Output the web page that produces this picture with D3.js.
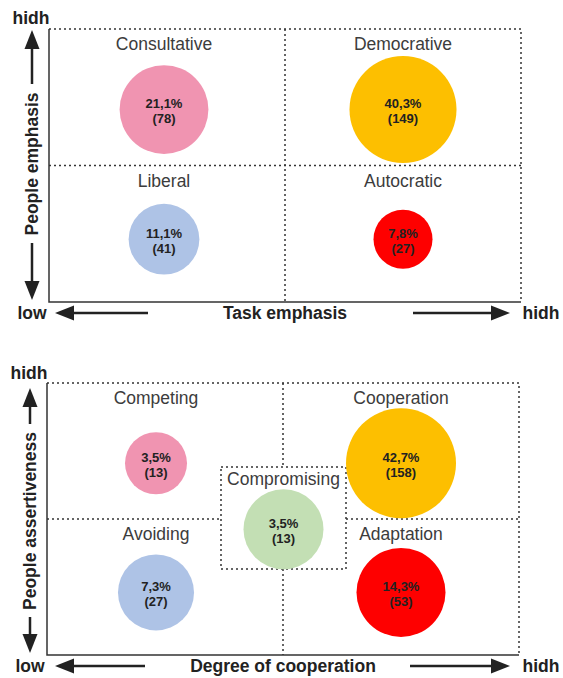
<!DOCTYPE html>
<html>
<head>
<meta charset="utf-8">
<script src="https://cdn.jsdelivr.net/npm/d3@7"></script>
<style>
  body { margin: 0; background: #fff; }
  svg { font-family: "Liberation Sans", Arial, sans-serif; }
</style>
</head>
<body>
<div id="wrapper"></div>
<script>
// leadership styles (top) and conflict styles (bottom)
const styleNames = ["Consultative", "Democrative", "Liberal", "Autocratic"]
const stylePct = [21.1, 40.3, 11.1, 7.8]
const styleCounts = [78, 149, 41, 27]

const conflictNames = ["Competing", "Cooperation", "Avoiding", "Adaptation"]
const conflictPct = [3.5, 42.7, 7.3, 14.3]
const conflictCounts = [13, 158, 27, 53]

const middleName = "Compromising"
const middlePct = 3.5
const middleCount = 13

const quadCols = [0, 1, 0, 1]
const quadRows = [0, 0, 1, 1]
const colors = ["#f094b1", "#fdbf00", "#aec3e6", "#fe0000"]
const middleColor = "#c3dfb4"

const axisText = {
  top: { x: "Task emphasis", y: "People emphasis", hi: "hidh", lo: "low" },
  bottom: { x: "Degree of cooperation", y: "People assertiveness", hi: "hidh", lo: "low" },
}

const locale = d3.formatLocale({ decimal: ",", thousands: ".", grouping: [3], currency: ["", ""] })
const fmtPct = d => locale.format(".1f")(d) + "%"

const width = 563
const height = 678

const svg = d3.select("#wrapper")
  .append("svg")
  .attr("width", width)
  .attr("height", height)

const ink = "#222"
const dotted = "2,3"

function arrowHead(g, x, y, dir) {
  // dir: "up" | "down" | "left" | "right"
  const L = 19, W = 7.5
  let pts
  if (dir === "up") pts = [[x, y], [x - W, y + L], [x + W, y + L]]
  if (dir === "down") pts = [[x, y], [x - W, y - L], [x + W, y - L]]
  if (dir === "left") pts = [[x, y], [x + L, y - W], [x + L, y + W]]
  if (dir === "right") pts = [[x, y], [x - L, y - W], [x - L, y + W]]
  g.append("path").attr("d", d3.line()(pts) + "Z").attr("fill", ink)
}

function drawPanel(opts) {
  const { box, names, pct, counts, rScale, txt, arrows, middle } = opts
  const g = svg.append("g")

  const x = d3.scaleLinear().domain([0, 2]).range([box.left, box.right])
  const y = d3.scaleLinear().domain([0, 2]).range([box.top, box.bottom])
  const cellH = y(1) - y(0)

  // dotted frame (top, right) + dividers
  g.append("path")
    .attr("d", `M${x(0)},${y(0)}H${x(2)}V${y(2)}`)
    .attr("fill", "none").attr("stroke", "#333").attr("stroke-width", 1.5)
    .attr("stroke-dasharray", dotted)

  if (middle) {
    const mb = middle.box
    g.append("path")
      .attr("d", `M${x(1)},${y(0)}V${mb.top}M${x(1)},${mb.bottom}V${y(2)}` +
        `M${x(0)},${y(1)}H${mb.left}M${mb.right},${y(1)}H${x(2)}`)
      .attr("fill", "none").attr("stroke", "#333").attr("stroke-width", 1.5)
      .attr("stroke-dasharray", dotted)
  } else {
    g.append("path")
      .attr("d", `M${x(1)},${y(0)}V${y(2)}M${x(0)},${y(1)}H${x(2)}`)
      .attr("fill", "none").attr("stroke", "#333").attr("stroke-width", 1.5)
      .attr("stroke-dasharray", dotted)
  }

  // solid axes
  g.append("path")
    .attr("d", `M${x(0)},${y(0)}V${y(2)}H${x(2)}`)
    .attr("fill", "none").attr("stroke", "#333").attr("stroke-width", 1.5)

  const rowFrac = [0.59, 0.54]
  const data = names.map((n, i) => ({
    name: n, pct: pct[i], count: counts[i],
    cx: x(quadCols[i] + 0.5) + (quadCols[i] === 0 ? box.leftShift : 0),
    cy: y(quadRows[i]) + rowFrac[quadRows[i]] * cellH,
    ly: y(quadRows[i]) + 15,
    r: rScale(counts[i]),
    color: colors[i],
  }))

  if (middle) {
    const mb = middle.box
    g.append("rect")
      .attr("x", mb.left).attr("y", mb.top)
      .attr("width", mb.right - mb.left).attr("height", mb.bottom - mb.top)
      .attr("fill", "#fff").attr("stroke", "#333").attr("stroke-width", 1.5)
      .attr("stroke-dasharray", dotted)
    data.push({
      name: middle.name, pct: middle.pct, count: middle.count,
      cx: (mb.left + mb.right) / 2,
      cy: mb.top + 0.61 * (mb.bottom - mb.top),
      ly: mb.top + 12,
      r: rScale(middle.count) * 1.29,
      color: middleColor,
    })
  }

  const q = g.selectAll(".quad").data(data).join("g").attr("class", "quad")

  q.append("circle")
    .attr("cx", d => d.cx).attr("cy", d => d.cy).attr("r", d => d.r)
    .attr("fill", d => d.color)

  q.append("text")
    .attr("x", d => d.cx).attr("y", d => d.ly)
    .attr("dy", "0.35em")
    .attr("text-anchor", "middle")
    .attr("font-size", 17.5)
    .attr("fill", "#3c3c3c")
    .text(d => d.name)

  q.append("text")
    .attr("x", d => d.cx).attr("y", d => d.cy - 6)
    .attr("dy", "0.35em")
    .attr("text-anchor", "middle")
    .attr("font-size", 13).attr("font-weight", "bold").attr("fill", ink)
    .text(d => fmtPct(d.pct))

  q.append("text")
    .attr("x", d => d.cx).attr("y", d => d.cy + 9)
    .attr("dy", "0.35em")
    .attr("text-anchor", "middle")
    .attr("font-size", 13).attr("font-weight", "bold").attr("fill", ink)
    .text(d => `(${d.count})`)

  // axis labels and arrows
  const a = arrows
  const lab = g.append("g").attr("font-weight", "bold").attr("font-size", 17.5).attr("fill", ink)

  lab.append("text").attr("x", a.yx - 1).attr("y", a.hiY).attr("dy", "0.35em")
    .attr("text-anchor", "middle").text(txt.hi)
  lab.append("text").attr("x", a.yx).attr("y", a.xy).attr("dy", "0.35em")
    .attr("text-anchor", "middle").text(txt.lo)
  lab.append("text").attr("x", 541).attr("y", a.xy).attr("dy", "0.35em")
    .attr("text-anchor", "middle").text(txt.hi)
  lab.append("text").attr("x", x(1)).attr("y", a.xy).attr("dy", "0.35em")
    .attr("text-anchor", "middle").text(txt.x)
  lab.append("text")
    .attr("transform", `translate(${a.yx},${a.yMid}) rotate(-90)`)
    .attr("dy", "0.35em")
    .attr("text-anchor", "middle").text(txt.y)

  const ar = g.append("g")
  const line = (x1, y1, x2, y2) => ar.append("line")
    .attr("x1", x1).attr("y1", y1).attr("x2", x2).attr("y2", y2)
    .attr("stroke", ink).attr("stroke-width", 2.5)

  // vertical
  line(a.yx, a.upTip + 10, a.yx, a.upEnd)
  arrowHead(ar, a.yx, a.upTip, "up")
  line(a.yx, a.downStart, a.yx, a.downTip - 10)
  arrowHead(ar, a.yx, a.downTip, "down")
  // horizontal
  line(a.leftTip + 10, a.xy, a.leftEnd, a.xy)
  arrowHead(ar, a.leftTip, a.xy, "left")
  line(a.rightStart, a.xy, a.rightTip - 10, a.xy)
  arrowHead(ar, a.rightTip, a.xy, "right")
}

// top panel
drawPanel({
  box: { left: 49, right: 521, top: 29, bottom: 302, leftShift: -3 },
  names: styleNames, pct: stylePct, counts: styleCounts,
  rScale: d3.scaleLog().domain([27, 149]).range([29.5, 53.5]),
  txt: axisText.top,
  arrows: { yx: 32, hiY: 18, yMid: 164, upTip: 30, upEnd: 84, downStart: 243, downTip: 300,
    xy: 313, leftTip: 55, leftEnd: 148, rightStart: 413, rightTip: 510 },
})

// bottom panel
drawPanel({
  box: { left: 47, right: 519, top: 383, bottom: 655, leftShift: -9 },
  names: conflictNames, pct: conflictPct, counts: conflictCounts,
  rScale: d3.scaleLog().domain([13, 158]).range([31, 55]),
  txt: axisText.bottom,
  arrows: { yx: 30, hiY: 373, yMid: 521, upTip: 388, upEnd: 424, downStart: 617, downTip: 653,
    xy: 666, leftTip: 55, leftEnd: 145, rightStart: 410, rightTip: 510 },
  middle: {
    name: middleName, pct: middlePct, count: middleCount,
    box: { left: 221, right: 346, top: 467, bottom: 569 },
  },
})
</script>
</body>
</html>
